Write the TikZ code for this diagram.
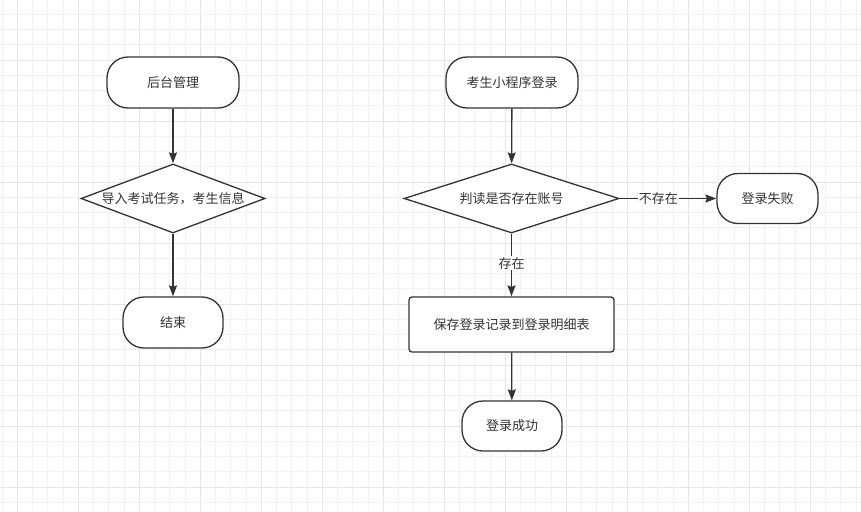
\documentclass[tikz,border=0pt]{standalone}
\usepackage{fontspec}
\setmainfont{Noto Sans CJK SC}
\usetikzlibrary{shapes.geometric,arrows.meta}
\definecolor{ink}{HTML}{333333}
\definecolor{gridminor}{HTML}{F1F1F1}
\definecolor{gridmajor}{HTML}{E6E6E6}
\begin{document}
\begin{tikzpicture}[x=1pt,y=-1pt,
  font=\fontsize{13}{15}\selectfont,
  term/.style={draw=ink,fill=white,line width=1.3pt,rounded corners=21pt,
    minimum height=51pt,inner sep=0pt,text=ink},
  decide/.style={diamond,draw=ink,fill=white,line width=1.3pt,aspect=2.67,
    minimum height=69pt,inner sep=0pt,text=ink},
  procbox/.style={draw=ink,fill=white,line width=1.3pt,rounded corners=3pt,
    minimum width=205pt,minimum height=55pt,inner sep=0pt,text=ink},
  arr/.style={draw=ink,line width=1.3pt,-{Stealth[length=11pt,width=8pt,inset=1.5pt]}},
  elabel/.style={fill=white,inner sep=1pt,text=ink}]
\useasboundingbox (0,0) rectangle (861,511);
\fill[white] (0,0) rectangle (861,511);
% grid
\foreach \k in {0,...,56} {
  \pgfmathsetmacro{\xx}{2+15.25*\k}
  \pgfmathtruncatemacro{\m}{mod(\k,4)}
  \ifnum\m=1
    \draw[gridmajor,line width=1pt] (\xx,0) -- (\xx,511);
  \else
    \draw[gridminor,line width=1pt] (\xx,0) -- (\xx,511);
  \fi
}
\foreach \k in {1,...,33} {
  \pgfmathsetmacro{\yy}{-0.95+15.25*\k}
  \pgfmathtruncatemacro{\m}{mod(\k,4)}
  \ifnum\m=0
    \draw[gridmajor,line width=1pt] (0,\yy) -- (861,\yy);
  \else
    \draw[gridminor,line width=1pt] (0,\yy) -- (861,\yy);
  \fi
}
% left column
\node[term,minimum width=132pt] (admin) at (173,82.5) {后台管理};
\node[decide,minimum width=184pt] (import) at (173,198.5) {导入考试任务，考生信息};
\node[term,minimum width=100pt] (endn) at (173,322.5) {结束};
% right column
\node[term,minimum width=132pt] (login) at (512,82.5) {考生小程序登录};
\node[decide,minimum width=215pt] (check) at (511.5,198.5) {判读是否存在账号};
\node[term,minimum width=101pt,minimum height=50pt] (fail) at (767.5,198.5) {登录失败};
\node[procbox] (save) at (511.5,324.5) {保存登录记录到登录明细表};
\node[term,minimum width=100pt,minimum height=50pt] (ok) at (512,426) {登录成功};
% connectors
\draw[arr] (admin) -- (import);
\draw[arr] (import) -- (endn);
\draw[arr] (login) -- (check);
\draw[arr] (check.east) -- node[elabel,pos=0.4] {不存在} (fail.west);
\draw[arr] (check.south) -- node[elabel,pos=0.47] {存在} (save.north);
\draw[arr] (save) -- (ok);
\end{tikzpicture}
\end{document}
